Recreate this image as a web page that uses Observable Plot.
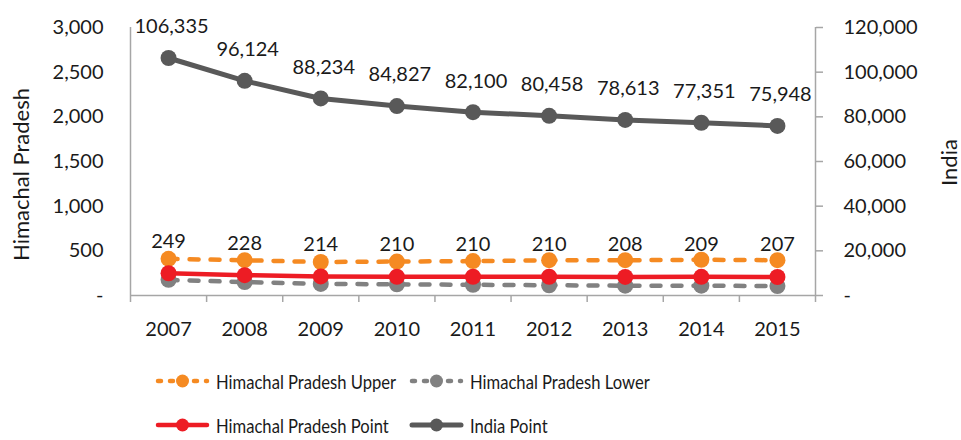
<!DOCTYPE html>
<html><head><meta charset="utf-8">
<script src="https://cdn.jsdelivr.net/npm/d3@7"></script>
<script src="https://cdn.jsdelivr.net/npm/@observablehq/plot@0.6"></script>
<style>
body{margin:0;background:#fff;font-family:Lato,sans-serif;}
#chart{position:relative;width:961px;height:440px;overflow:hidden;}
#chart svg.plot{position:absolute;left:0;top:0;}
.leg{position:absolute;height:30px;display:flex;align-items:center;font-family:Lato,sans-serif;font-size:20px;color:#1a1a1a;white-space:nowrap;}
.leg svg{margin-right:6px;flex:none;}
.leg span{display:inline-block;transform:scaleX(0.83);transform-origin:0 50%;}
</style></head><body><div id="chart"></div>
<script>
const years = [2007, 2008, 2009, 2010, 2011, 2012, 2013, 2014, 2015];
const hpUpper = [410, 395, 375, 380, 385, 395, 395, 400, 395];
const hpLower = [175, 150, 130, 125, 120, 115, 110, 110, 105];
const hpPoint = [249, 228, 214, 210, 210, 210, 208, 209, 207];
const indiaPoint = [106335, 96124, 88234, 84827, 82100, 80458, 78613, 77351, 75948];
const leftTicks = [0, 500, 1000, 1500, 2000, 2500, 3000];
const rightTicks = [0, 20000, 40000, 60000, 80000, 100000, 120000];
const seriesNames = ["Himachal Pradesh Upper", "Himachal Pradesh Lower", "Himachal Pradesh Point", "India Point"];
const seriesColors = ["#F58A22", "#818181", "#ED1C24", "#595959"];
const leftTitle = "Himachal Pradesh";
const rightTitle = "India";

const ratio = rightTicks[rightTicks.length - 1] / leftTicks[leftTicks.length - 1];
const fmt = d3.format(",");
const rows = years.map((year, i) => ({year, upper: hpUpper[i], lower: hpLower[i], point: hpPoint[i], india: indiaPoint[i]}));
const bounds = d3.range(years[0] - 0.5, years[years.length - 1] + 1, 1);
const axisColor = "#a6a6a6";
const textColor = "#1a1a1a";

const plot = Plot.plot({
  width: 961,
  height: 350,
  marginTop: 27,
  marginBottom: 55,
  marginLeft: 130,
  marginRight: 146,
  style: {fontFamily: "Lato, sans-serif", fontSize: "20px", color: textColor, background: "white"},
  x: {domain: [bounds[0], bounds[bounds.length - 1]], axis: null},
  y: {domain: [0, 3000], axis: null},
  marks: [
    Plot.ruleY([0], {stroke: axisColor, strokeWidth: 1.5}),
    Plot.ruleX([bounds[0]], {stroke: axisColor, strokeWidth: 1.5}),
    Plot.ruleX([bounds[bounds.length - 1]], {stroke: axisColor, strokeWidth: 1.5}),
    Plot.axisX(bounds, {tickSize: 7, tickFormat: () => "", stroke: axisColor, strokeWidth: 1.5, label: null}),
    Plot.axisX(years, {tickSize: 0, tickPadding: 26, tickFormat: d => String(d), fontSize: 20, fill: textColor, label: null}),
    Plot.axisY(leftTicks, {anchor: "left", tickSize: 0, tickPadding: 27, tickFormat: d => d === 0 ? "-" : fmt(d), fontSize: 20, fill: textColor, label: null}),
    Plot.axisY(leftTicks, {anchor: "right", tickSize: 7, tickPadding: 21, stroke: axisColor, strokeWidth: 1.5, tickFormat: d => d === 0 ? "-" : fmt(d * ratio), fontSize: 20, fill: textColor, label: null}),
    Plot.text([leftTitle], {frameAnchor: "left", textAnchor: "middle", dx: -109, dy: 13, rotate: -90, fontSize: 22, fill: textColor}),
    Plot.text([rightTitle], {frameAnchor: "right", textAnchor: "middle", dx: 134, dy: 1, rotate: -90, fontSize: 22, fill: textColor}),
    // Upper
    Plot.line(rows, {x: "year", y: "upper", stroke: seriesColors[0], strokeWidth: 4.5, strokeDasharray: "9,12", strokeLinecap: "round"}),
    Plot.dot(rows, {x: "year", y: "upper", r: 8, fill: seriesColors[0]}),
    // Lower
    Plot.line(rows, {x: "year", y: "lower", stroke: seriesColors[1], strokeWidth: 4.5, strokeDasharray: "9,12", strokeLinecap: "round"}),
    Plot.dot(rows, {x: "year", y: "lower", r: 8, fill: seriesColors[1]}),
    // Point
    Plot.line(rows, {x: "year", y: "point", stroke: seriesColors[2], strokeWidth: 4.5}),
    Plot.dot(rows, {x: "year", y: "point", r: 8, fill: seriesColors[2]}),
    // India
    Plot.line(rows, {x: "year", y: d => d.india / ratio, stroke: seriesColors[3], strokeWidth: 5}),
    Plot.dot(rows, {x: "year", y: d => d.india / ratio, r: 8, fill: seriesColors[3]}),
    // labels
    Plot.text(rows, {x: "year", y: "point", text: d => fmt(d.point), dy: -32, fontSize: 20, fill: textColor}),
    Plot.text(rows, {x: "year", y: d => d.india / ratio, text: d => fmt(d.india), dx: 3, dy: -31, fontSize: 20, fill: textColor})
  ]
});
plot.classList.add("plot");
const chart = document.getElementById("chart");
chart.appendChild(plot);

// Legend
const legPos = [[155, 366], [409, 366], [155, 410], [409, 410]];
const dashed = [true, true, false, false];
seriesNames.forEach((name, i) => {
  const div = document.createElement("div");
  div.className = "leg";
  div.style.left = legPos[i][0] + "px";
  div.style.top = legPos[i][1] + "px";
  const w = 55;
  const ns = "http://www.w3.org/2000/svg";
  const svg = document.createElementNS(ns, "svg");
  svg.setAttribute("width", w); svg.setAttribute("height", 30);
  const line = document.createElementNS(ns, "line");
  line.setAttribute("x1", 3); line.setAttribute("x2", w - 3);
  line.setAttribute("y1", 15); line.setAttribute("y2", 15);
  line.setAttribute("stroke", seriesColors[i]);
  line.setAttribute("stroke-width", i === 3 ? 5 : 4.5);
  line.setAttribute("stroke-linecap", "round");
  if (dashed[i]) line.setAttribute("stroke-dasharray", "3,9");
  svg.appendChild(line);
  const c = document.createElementNS(ns, "circle");
  c.setAttribute("cx", w / 2); c.setAttribute("cy", 15); c.setAttribute("r", 6.5);
  c.setAttribute("fill", seriesColors[i]);
  svg.appendChild(c);
  div.appendChild(svg);
  const span = document.createElement("span");
  span.textContent = name;
  div.appendChild(span);
  chart.appendChild(div);
});
</script>
</body></html>
